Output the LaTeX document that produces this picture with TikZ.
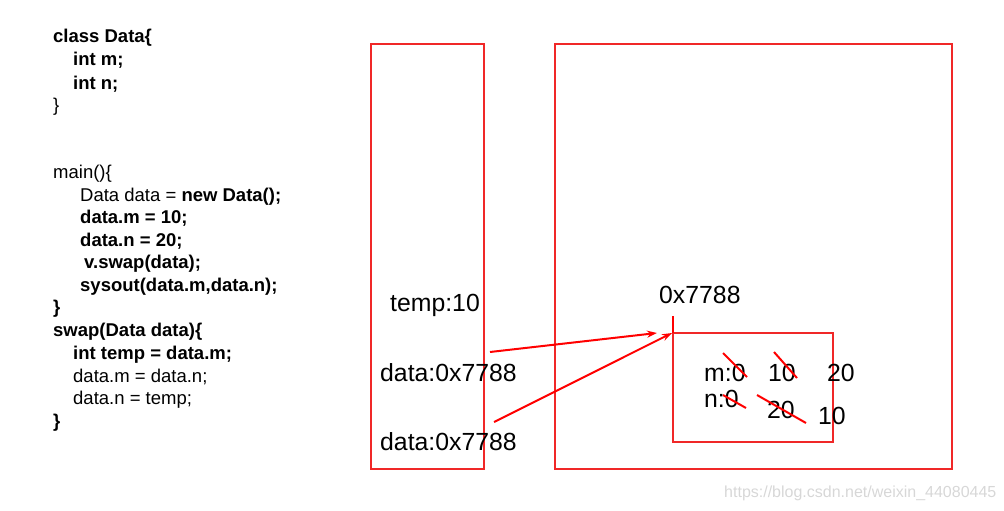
\documentclass[tikz,border=0pt]{standalone}
\usepackage{fontspec}
\setmainfont{Liberation Sans}
\usetikzlibrary{arrows.meta}
\definecolor{boxred}{RGB}{240,40,40}
\definecolor{wm}{RGB}{215,215,215}
\tikzset{
  code/.style={anchor=base west, inner sep=0pt, font=\fontsize{18.5}{22}\selectfont},
  bcode/.style={code, font=\fontsize{18.5}{22}\selectfont\bfseries},
  lbl/.style={anchor=base west, inner sep=0pt, font=\fontsize{24.8}{29}\selectfont},
  memrect/.style={draw=boxred, line width=1.6pt},
  strike/.style={draw=red, line width=2pt},
  ptr/.style={draw=red, line width=2pt, -{Stealth[length=10pt,width=7pt]}}
}
\begin{document}
\begin{tikzpicture}[x=1pt,y=-1pt]
\useasboundingbox (0,0) rectangle (1004,511);
% code
\node[bcode] (c1) at (53,43) {class Data\{};
\node[bcode] (c2) at (73,66) {int m;};
\node[bcode] (c3) at (73,89) {int n;};
\node[code] (c4) at (53,111) {\}};
\node[code] (c5) at (53,178) {main()\{};
\node[code] (c6) at (80,201) {Data data = \textbf{new Data();}};
\node[bcode] (c7) at (80,223) {data.m = 10;};
\node[bcode] (c8) at (80,246) {data.n = 20;};
\node[bcode] (c9) at (84,268) {v.swap(data);};
\node[bcode] (c10) at (80,291) {sysout(data.m,data.n);};
\node[bcode] (c11) at (53,313) {\}};
\node[bcode] (c12) at (53,336) {swap(Data data)\{};
\node[bcode] (c13) at (73,359) {int temp = data.m;};
\node[code] (c14) at (73,382) {data.m = data.n;};
\node[code] (c15) at (73,404) {data.n = temp;};
\node[bcode] (c16) at (53,427) {\}};
% memory boxes
\draw[memrect] (371,44) rectangle (484,469);
\draw[memrect] (555,44) rectangle (952,469);
\draw[memrect] (673,333) rectangle (833,442);
\coordinate (objtop) at (673,333);
\coordinate (objtick) at (673,316);
\draw[red, line width=2pt] (objtick) -- (objtop);
% stack labels
\node[lbl] (temp) at (390,311) {temp:10};
\node[lbl] (d1) at (380,381) {data:0x7788};
\node[lbl] (d2) at (380,450) {data:0x7788};
\node[lbl] (addr) at (659,303) {0x7788};
% pointers
\coordinate (t1) at (490,352);
\coordinate (h1) at (657,333);
\coordinate (t2) at (494,422);
\coordinate (h2) at (672,333);
\draw[ptr] (t1) -- (h1);
\draw[ptr] (t2) -- (h2);
% object fields
\node[lbl] (m0) at (704,381) {m:0};
\node[lbl] (m10) at (768,381) {10};
\node[lbl] (m20) at (827,381) {20};
\node[lbl] (n0) at (704,407) {n:0};
\node[lbl] (n20) at (767,418) {20};
\node[lbl] (n10) at (818,424) {10};
\draw[strike] (723,353) -- (747,377);
\draw[strike] (774,352) -- (797,378);
\draw[strike] (723,395) -- (746,408);
\draw[strike] (757,395) -- (806,423);
% watermark
\node[anchor=base west, inner sep=0pt, text=wm, font=\fontsize{16}{19}\selectfont] (wmk) at (724,497) {https://blog.csdn.net/weixin\_44080445};
\end{tikzpicture}
\end{document}
